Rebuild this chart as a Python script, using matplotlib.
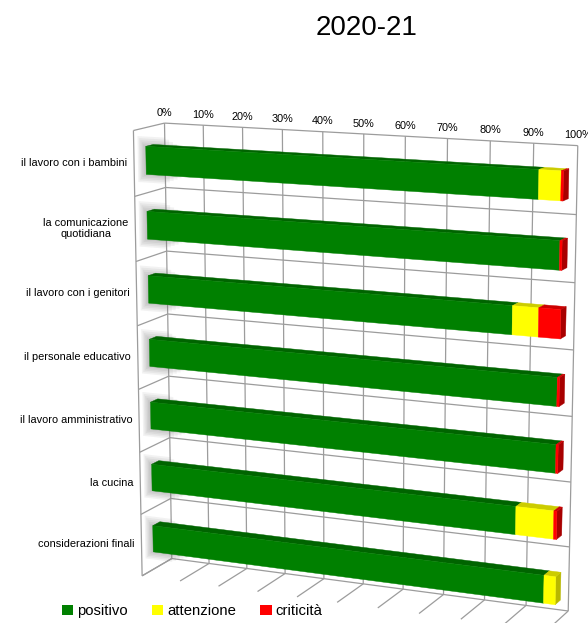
import matplotlib
matplotlib.use('Agg')
import matplotlib.pyplot as plt
from matplotlib.patches import Patch
from mpl_toolkits.mplot3d import proj3d
from mpl_toolkits.mplot3d.art3d import Poly3DCollection, Line3DCollection

plt.rcParams['font.family'] = ['Liberation Sans', 'DejaVu Sans']

# dati del questionario 2020-21 (percentuali per voce)
categorie = ['il lavoro con i bambini', 'la comunicazione\nquotidiana',
             'il lavoro con i genitori', 'il personale educativo',
             'il lavoro amministrativo', 'la cucina', 'considerazioni finali']
positivo = [94.5, 99.5, 89.0, 99.5, 99.5, 90.5, 97.3]
attenzione = [5.0, 0.0, 6.0, 0.0, 0.0, 8.8, 2.7]
criticita = [0.5, 0.5, 5.0, 0.5, 0.5, 0.7, 0.0]
serie = ['positivo', 'attenzione', 'criticità']
tick_pct = list(range(0, 101, 10))

# colori: fronte, faccia superiore, testata
colori = [('#008000', '#006400', '#005a00'),
          ('#ffff00', '#cccc00', '#b8b800'),
          ('#ff0000', '#cc0000', '#a80000')]

n = len(categorie)
prof = 1.0                     # profondita' del box
y0, y1 = 0.38, 0.62            # profondita' delle barre
alt = 0.43                     # altezza delle barre
grigio = '#9c9c9c'

fig = plt.figure(figsize=(5.88, 6.23), dpi=100)
ax = fig.add_axes([0.0823, -0.107, 1, 1], projection='3d', computed_zorder=False)
ax.set_proj_type('persp', focal_length=0.77)
ax.view_init(elev=12.7, azim=-66.5)
ax.set_xlim(0, 100)
ax.set_ylim(0, prof)
ax.set_zlim(0, n)
ax.set_box_aspect((440, 66, 461), zoom=1.07)
ax.set_axis_off()


def proietta(x, y, z):
    # coordinate 2D della vista prospettica
    xs, ys, _ = proj3d.proj_transform(x, y, z, ax.get_proj())
    return xs, ys


# griglia: parete di fondo, parete sinistra, pavimento
linee = []
for v in tick_pct:
    linee.append([(v, prof, 0), (v, prof, n)])
    linee.append([(v, prof, 0), (v, 0, 0)])
for k in range(n + 1):
    linee.append([(0, prof, k), (100, prof, k)])
    linee.append([(0, prof, k), (0, 0, k)])
linee.append([(0, 0, 0), (0, 0, n)])
ax.add_collection3d(Line3DCollection(linee, colors=grigio, linewidths=0.9, zorder=1))

dati = [positivo, attenzione, criticita]
for i in range(n):
    z0 = n - i - 1 + (1 - alt) / 2
    z1 = z0 + alt
    # ombra sfumata all'estremita' sinistra
    for k in range(6):
        m = 0.35 + 0.35 * k
        ombra = [[(-m, y0, z0 - 0.025 * k), (10 - k, y0, z0 - 0.025 * k),
                  (10 - k, y0, z1 + 0.03 * k), (-m, y0, z1 + 0.03 * k)]]
        ax.add_collection3d(Poly3DCollection(ombra, facecolors='#777777',
                                             edgecolors='none', alpha=0.09, zorder=2))
    facce, col = [], []
    x = 0.0
    ultimo = max(j for j in range(3) if dati[j][i] > 0)
    for j in range(3):
        w = dati[j][i]
        if w <= 0:
            continue
        xa, xb = x, x + w
        facce.append([(xa, y0, z1), (xb, y0, z1), (xb, y1, z1), (xa, y1, z1)])
        col.append(colori[j][1])
        facce.append([(xa, y0, z0), (xb, y0, z0), (xb, y0, z1), (xa, y0, z1)])
        col.append(colori[j][0])
        if j == ultimo:
            facce.append([(xb, y0, z0), (xb, y1, z0), (xb, y1, z1), (xb, y0, z1)])
            col.append(colori[j][2])
        x = xb
    ax.add_collection3d(Poly3DCollection(facce, facecolors=col, edgecolors=col,
                                         linewidths=0.3, zorder=3))
    xs, ys = proietta(-1.8, 0, n - i - 0.5)
    ax.text2D(xs, ys, categorie[i], ha='right', va='center',
              multialignment='center', fontsize=7.9, zorder=4)

for v in tick_pct:
    xs, ys = proietta(v, prof, n + 0.08)
    ax.text2D(xs, ys, f'{v}%', ha='center', va='bottom', fontsize=7.8, zorder=4)

fig.text(0.624, 0.955, '2020-21', ha='center', va='center', fontsize=20)

maniglie = [Patch(facecolor=c[0], edgecolor='none') for c in colori]
fig.legend(maniglie, serie, ncol=3, loc='center left', bbox_to_anchor=(0.083, 0.019),
           frameon=False, fontsize=10.7, handlelength=0.75, handleheight=0.75,
           handletextpad=0.25, columnspacing=1.65)

fig.savefig('out.png', dpi=100)
